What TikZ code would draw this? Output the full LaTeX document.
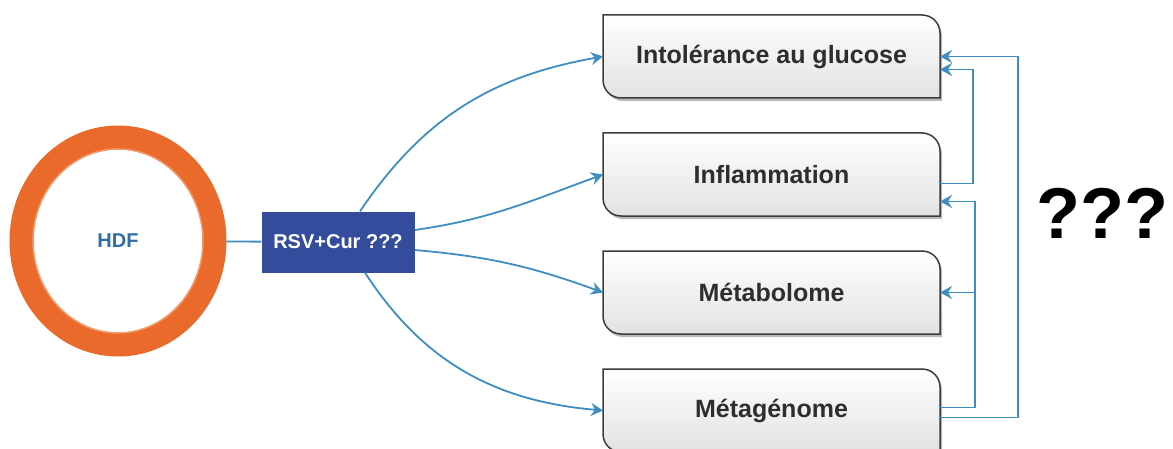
\documentclass[tikz,border=0pt]{standalone}
\usepackage{fontspec}
\setsansfont{Liberation Sans}
\usetikzlibrary{arrows.meta,positioning,shapes.geometric,backgrounds}
\definecolor{ringorange}{HTML}{EA6A2B}
\definecolor{ringlight}{HTML}{F19A6A}
\definecolor{hdfblue}{HTML}{2F6EA6}
\definecolor{rsvblue}{HTML}{354C9C}
\definecolor{linkblue}{HTML}{3F8EC2}
\definecolor{boxborder}{HTML}{3C3C3C}
\definecolor{boxshade}{HTML}{E2E2E2}
\definecolor{labelgray}{HTML}{2E2E2E}
% outline of a result box: top right and bottom left corners rounded
\newcommand{\cutbox}[1]{(#1.north west) -- ([xshift=-18pt]#1.north east) arc[start angle=90,end angle=0,radius=18pt] -- (#1.south east) -- ([xshift=18pt]#1.south west) arc[start angle=270,end angle=180,radius=18pt] -- cycle}

\begin{document}
\begin{tikzpicture}[
  x=1pt, y=1pt,
  font=\sffamily\bfseries,
  >={Stealth[length=12pt,width=13pt,inset=4pt]},
  ring/.style={
    ellipse,
    draw=ringorange,
    line width=24pt,
    minimum width=193pt,
    minimum height=207pt,
    inner sep=0pt,
    text=hdfblue,
    font=\sffamily\bfseries\fontsize{20}{24}\selectfont
  },
  treat/.style={
    fill=rsvblue,
    minimum width=153pt,
    minimum height=61pt,
    inner sep=0pt,
    text=white,
    font=\sffamily\bfseries\fontsize{20}{24}\selectfont
  },
  result/.style={
    minimum width=337pt,
    minimum height=83pt,
    inner sep=0pt,
    outer sep=0pt,
    text=labelgray,
    font=\sffamily\bfseries\fontsize{25}{30}\selectfont
  },
  link/.style={
    draw=linkblue,
    line width=1.8pt
  }
]
  \useasboundingbox (0,0) rectangle (1173,448);

  % Left: HDF ring and treatment
  \node[ring] (hdf) at (118,207) {HDF};
  \draw[ringlight, line width=1.5pt] (hdf.center) ellipse[x radius=85pt, y radius=92pt];
  \node[treat] (rsv) at (338,206) {RSV+Cur ???};
  \draw[link] (hdf) -- (rsv);

  % Right: result boxes
  \node[result, anchor=north west] (glu) at (603,433) {Intolérance au glucose};
  \node[result, below=35pt of glu] (infl) {Inflammation};
  \node[result, below=35pt of infl] (metab) {Métabolome};
  \node[result, below=35pt of metab] (metag) {Métagénome};

  \begin{scope}[on background layer]
    \foreach \b in {glu,infl,metab,metag}{
      \fill[gray!55, transform canvas={shift={(2pt,-3pt)}}] \cutbox{\b};
      \draw[boxborder, line width=1.5pt, top color=white, bottom color=boxshade] \cutbox{\b};
    }
  \end{scope}

  % Treatment to results
  \draw[link,->] ([xshift=22pt]rsv.north) to[out=56,in=190] (glu.west);
  \draw[link,->] ([yshift=12pt]rsv.east) to[out=8,in=200] (infl.west);
  \draw[link,->] ([yshift=-8pt]rsv.east) to[out=-5,in=160] (metab.west);
  \draw[link,->] ([xshift=27pt]rsv.south) to[out=-57,in=175] (metag.west);

  % Feedback loops
  \draw[link,->] ([yshift=-9pt]infl.east) -- ++(33,0) |- ([yshift=-13pt]glu.east);
  \draw[link,->] ([yshift=3pt]metag.east) -- ++(35,0) coordinate (junc) |- ([yshift=-27pt]infl.east);
  \draw[link,->] (junc |- metab.east) -- (metab.east);
  \draw[link,->] ([yshift=-7pt]metag.east) -- ++(78,0) |- (glu.east);

  \node[font=\sffamily\bfseries\fontsize{72}{80}\selectfont] (ques) at (1102,235) {???};

\end{tikzpicture}
\end{document}
